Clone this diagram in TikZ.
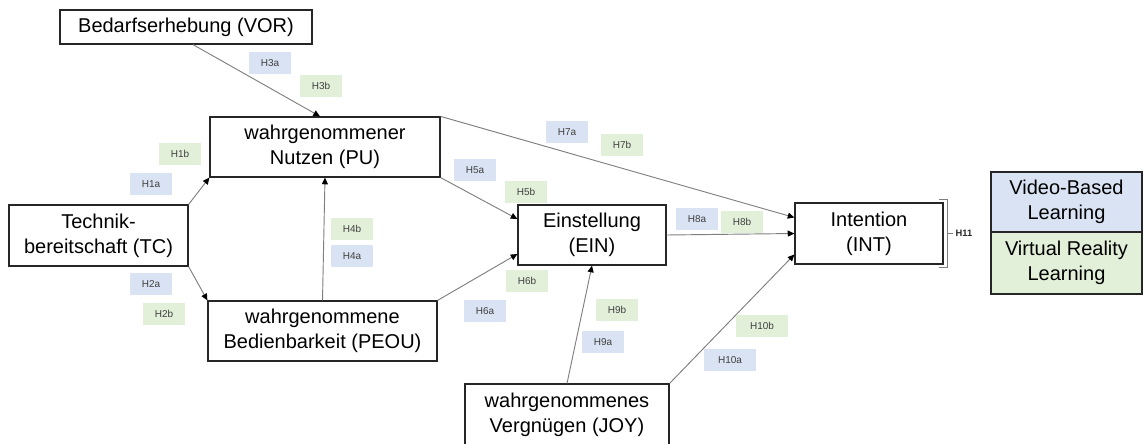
\documentclass[tikz,border=0pt]{standalone}
\usepackage{fontspec}
\setmainfont{Liberation Sans}
\usetikzlibrary{arrows.meta,calc}
\definecolor{hblue}{HTML}{DAE3F3}
\definecolor{hgreen}{HTML}{E2F0D9}
\definecolor{linegray}{HTML}{7F7F7F}
\begin{document}
\begin{tikzpicture}[x=0.75pt,y=-0.75pt,
  box/.style={draw=black!85,line width=0.9pt,fill=white,align=center,
    inner sep=0pt,font=\fontsize{15}{18.5}\selectfont},
  hyp/.style={minimum width=31.5pt,minimum height=16.5pt,inner sep=0pt,
    text=black!75,font=\fontsize{7.5}{9}\selectfont},
  ha/.style={hyp,fill=hblue},
  hb/.style={hyp,fill=hgreen},
  link/.style={draw=linegray,line width=0.7pt,
    -{Triangle[length=5pt,width=4.5pt,color=black]}}]
\useasboundingbox (0,0) rectangle (1143,443);
\clip (0,0) rectangle (1143,443);

% constructs
\node[box,minimum width=189pt,minimum height=25.5pt] (vor) at (186,27) {Bedarfserhebung (VOR)};
\node[box,minimum width=172.5pt,minimum height=45pt] (pu) at (325,147) {wahrgenommener\\Nutzen (PU)};
\node[box,minimum width=134.25pt,minimum height=45.75pt] (tc) at (98.5,235.5) {Technik-\\bereitschaft (TC)};
\node[box,minimum width=171.75pt,minimum height=45pt] (peou) at (322.5,331) {wahrgenommene\\Bedienbarkeit (PEOU)};
\node[box,minimum width=111pt,minimum height=45pt] (ein) at (592,235) {Einstellung\\(EIN)};
\node[box,minimum width=111pt,minimum height=45.75pt] (int) at (869,233.5) {Intention\\(INT)};
\node[box,minimum width=153pt,minimum height=46.5pt] (joy) at (567,415) {wahrgenommenes\\Vergnügen (JOY)};
\node[box,fill=hblue,minimum width=113.25pt,minimum height=45pt] (vbl) at (1066.5,202) {Video-Based\\Learning};
\node[box,fill=hgreen,minimum width=113.25pt,minimum height=46.5pt] (vrl) at (1066.5,263) {Virtual Reality\\Learning};

% paths
\draw[link] ($(vor.south)+(7,0)$) -- ($(pu.north)+(-5,0)$);
\draw[link] (tc.north east) -- (pu.south west);
\draw[link] (tc.south east) -- (peou.north west);
\draw[link] (peou.north) -- (pu.south);
\draw[link] (pu.south east) -- ($(ein.west)+(0,-16)$);
\draw[link] (peou.north east) -- ($(ein.west)+(0,19)$);
\draw[link] (pu.north east) -- ($(int.west)+(0,-16)$);
\draw[link] (ein.east) -- (int.west);
\draw[link] (joy.north) -- (ein.south);
\draw[link] (joy.north east) -- ($(int.west)+(0,21)$);

% hypothesis labels
\node[ha] (h3a) at (270,63) {H3a};
\node[hb] (h3b) at (321,86) {H3b};
\node[hb] (h1b) at (180,154) {H1b};
\node[ha] (h1a) at (151,184) {H1a};
\node[ha] (h2a) at (151,284) {H2a};
\node[hb] (h2b) at (164,314) {H2b};
\node[hb] (h4b) at (352,229) {H4b};
\node[ha] (h4a) at (352,256) {H4a};
\node[ha] (h5a) at (475,170) {H5a};
\node[hb] (h5b) at (526,192) {H5b};
\node[hb] (h6b) at (527,281) {H6b};
\node[ha] (h6a) at (485,311) {H6a};
\node[ha] (h7a) at (567,132) {H7a};
\node[hb] (h7b) at (622,145) {H7b};
\node[ha] (h8a) at (697,219) {H8a};
\node[hb] (h8b) at (742,222) {H8b};
\node[hb] (h9b) at (617,310) {H9b};
\node[ha] (h9a) at (603,342) {H9a};
\node[hb,minimum width=39pt] (h10b) at (762,326) {H10b};
\node[ha,minimum width=39pt] (h10a) at (730,360) {H10a};

% bracket grouping the intention outcome
\draw[linegray,line width=0.6pt] (939,199) -- (947,199) -- (947,267) -- (939,267);
\draw[linegray,line width=0.6pt] (947,233) -- (953,233);
\node[font=\bfseries\fontsize{7}{8}\selectfont,text=black!85] (h11) at (964,233) {H11};
\end{tikzpicture}
\end{document}
